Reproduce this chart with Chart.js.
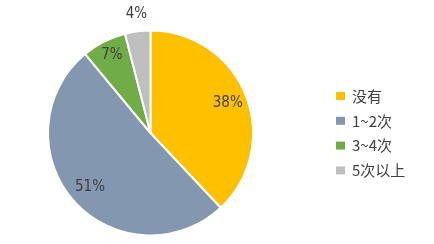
<!DOCTYPE html>
<html>
<head>
<meta charset="utf-8">
<script src="https://cdn.jsdelivr.net/npm/chart.js@4"></script>
<style>
  html, body { margin: 0; padding: 0; background: #fff; }
  #wrap { width: 434px; height: 244px; }
</style>
</head>
<body>
<div id="wrap"><canvas id="pieChart" width="434" height="244"></canvas></div>
<script>
// Chart data
const categories = ['没有', '1~2次', '3~4次', '5次以上'];
const percentValues = [38, 51, 7, 4];
const percentLabels = ['38%', '51%', '7%', '4%'];
const sliceColors = ['#FFC000', '#8497B0', '#70AD47', '#BFBFBF'];

// Label distance from centre, as a fraction of the radius
const labelRadius = [0.8, 0.8, 0.85, 1.17];

const textColor = '#404040';

// Percentage labels on / next to each slice
const sliceLabels = {
    id: 'sliceLabels',
    afterDatasetsDraw(chart) {
        const ctx = chart.ctx;
        const arcs = chart.getDatasetMeta(0).data;
        ctx.save();
        ctx.font = '15px "DejaVu Sans Condensed", "Liberation Sans Narrow", sans-serif';
        ctx.fillStyle = textColor;
        ctx.textAlign = 'center';
        ctx.textBaseline = 'middle';
        arcs.forEach((arc, i) => {
            const p = arc.getProps(['x', 'y', 'startAngle', 'endAngle', 'outerRadius'], true);
            const mid = (p.startAngle + p.endAngle) / 2;
            const r = p.outerRadius * labelRadius[i];
            ctx.fillText(percentLabels[i], p.x + Math.cos(mid) * r + 1, p.y + Math.sin(mid) * r);
        });
        ctx.restore();
    }
};

// Legend on the right side
const sideLegend = {
    id: 'sideLegend',
    afterDraw(chart) {
        const ctx = chart.ctx;
        ctx.save();
        ctx.font = '15px "Noto Sans CJK SC", sans-serif';
        ctx.textBaseline = 'middle';
        categories.forEach((name, i) => {
            const y = 96 + i * 24.8;
            ctx.fillStyle = sliceColors[i];
            ctx.fillRect(336, y - 4, 9, 8);
            ctx.fillStyle = textColor;
            ctx.fillText(name, 352, y);
        });
        ctx.restore();
    }
};

const ctx = document.getElementById('pieChart').getContext('2d');
new Chart(ctx, {
    type: 'pie',
    data: {
        labels: categories,
        datasets: [{
            data: percentValues,
            backgroundColor: sliceColors,
            borderColor: '#ffffff',
            borderWidth: 2
        }]
    },
    options: {
        responsive: false,
        animation: false,
        layout: {
            padding: { top: 29, bottom: 7, left: 47, right: 180 }
        },
        plugins: {
            legend: { display: false },
            tooltip: { enabled: false }
        }
    },
    plugins: [sliceLabels, sideLegend]
});
</script>
</body>
</html>
